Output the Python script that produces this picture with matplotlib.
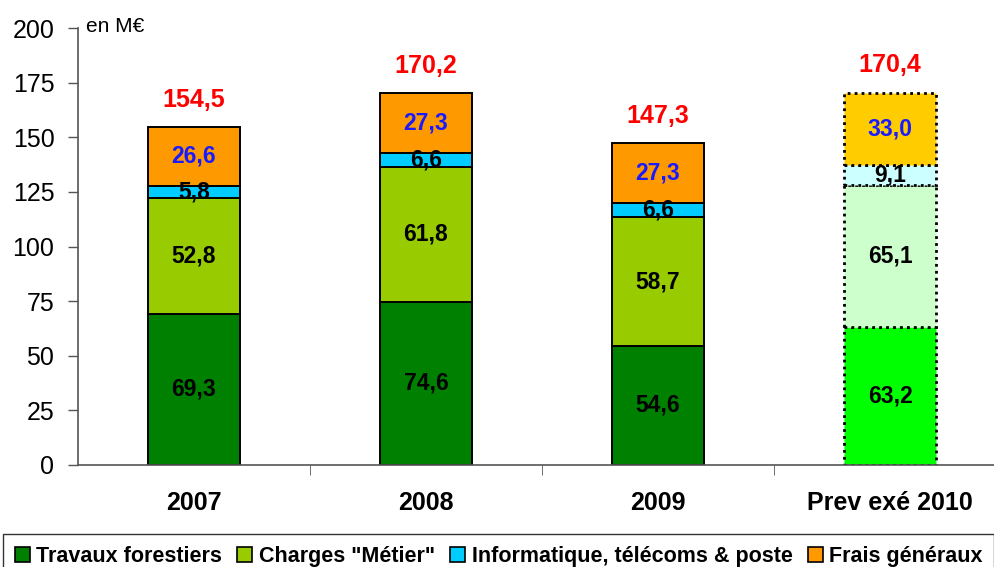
import numpy as np
import matplotlib.pyplot as plt

plt.rcParams['font.family'] = ['Liberation Sans', 'DejaVu Sans']

years = ["2007", "2008", "2009", "Prev exé 2010"]
series = ["Travaux forestiers", "Charges \"Métier\"", "Informatique, télécoms & poste", "Frais généraux"]
travaux = [69.3, 74.6, 54.6, 63.2]
metier = [52.8, 61.8, 58.7, 65.1]
info = [5.8, 6.6, 6.6, 9.1]
frais = [26.6, 27.3, 27.3, 33.0]
totals = [154.5, 170.2, 147.3, 170.4]

colors = ["#008000", "#99CC00", "#00CCFF", "#FF9900"]
colors_prev = ["#00FF00", "#CCFFCC", "#CCFFFF", "#FFCC00"]
label_colors = ["black", "black", "black", "#1A1AFF"]

fig = plt.figure(figsize=(9.94, 5.67), dpi=100)
ax = fig.add_axes([78 / 994, 102 / 567, 928 / 994, 437 / 567])

x = np.arange(len(years))
data = [travaux, metier, info, frais]
bottom = np.zeros(len(years))
for k, vals in enumerate(data):
    for i in range(len(years)):
        prev = i == 3
        ax.bar(x[i], vals[i], 0.4, bottom=bottom[i],
               color=colors_prev[k] if prev else colors[k],
               edgecolor="black", linewidth=2 if prev else 1.4,
               linestyle=(0, (1, 1.5)) if prev else "-", zorder=2)
        ax.text(x[i], bottom[i] + vals[i] / 2, f"{vals[i]:.1f}".replace(".", ","),
                ha="center", va="center", fontsize=16.5, fontweight="bold",
                color=label_colors[k], zorder=3)
    bottom += np.array(vals)

for i, t in enumerate(totals):
    ax.text(x[i], t + 12.5, f"{t:.1f}".replace(".", ","), ha="center", va="center",
            fontsize=18, fontweight="bold", color="red")

# legend proxies
for k in range(4):
    ax.bar(0, 0, 0, color=colors[k], edgecolor="black", linewidth=1.2, label=series[k])

ax.set_xlim(-0.5, 3.5)
ax.set_ylim(0, 200)
ax.set_yticks(np.arange(0, 201, 25))
ax.tick_params(axis="y", labelsize=18, length=7, width=1, color="#555555",
               direction="out", pad=10)
ax.set_xticks(x)
ax.set_xticklabels(years, fontsize=18, fontweight="bold")
ax.tick_params(axis="x", length=0, pad=19)
ax.set_xticks([0.5, 1.5, 2.5], minor=True)
ax.tick_params(axis="x", which="minor", length=7, color="#555555")

for s in ["top", "right"]:
    ax.spines[s].set_visible(False)
ax.spines["left"].set_color("#555555")
ax.spines["bottom"].set_color("#555555")
ax.spines["left"].set_linewidth(1.2)
ax.spines["bottom"].set_linewidth(1.2)

fig.text(86 / 994, 1 - 26 / 567, "en M€", fontsize=15, va="center", ha="left")

leg = fig.legend(loc="lower left", bbox_to_anchor=(3 / 994, -12 / 567), ncol=4,
                 fontsize=15.5, frameon=True, fancybox=False, edgecolor="black",
                 handlelength=0.7, handleheight=0.7, handletextpad=0.3,
                 columnspacing=0.7, borderpad=0.55, borderaxespad=0)
for t in leg.get_texts():
    t.set_fontweight("bold")
leg.get_frame().set_linewidth(1)

fig.savefig("out.png", dpi=100)
